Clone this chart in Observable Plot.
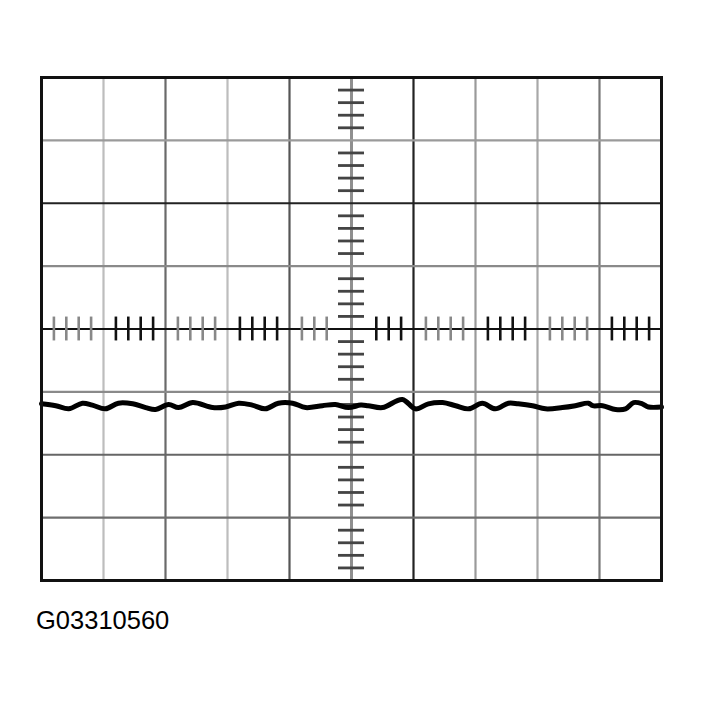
<!DOCTYPE html>
<html>
<head>
<meta charset="utf-8">
<script src="https://cdn.jsdelivr.net/npm/d3@7"></script>
<script src="https://cdn.jsdelivr.net/npm/@observablehq/plot@0.6"></script>
<style>
  html, body { margin: 0; padding: 0; background: #fff; }
  #chart svg { display: block; }
  #caption { font-family: "Liberation Sans", Arial, sans-serif; font-size: 25.5px; line-height: 24px; padding: 12px 0 0 36px; color: #000; }
</style>
</head>
<body>
<div id="chart"></div>
<div id="caption"></div>
<script>
// Time axis: divisions (0..10); voltage axis: divisions (-4..4)
const gridX = [1, 2, 3, 4, 5, 6, 7, 8, 9];
const gridY = [-3, -2, -1, 0, 1, 2, 3];
const minorX = [0.2,0.4,0.6,0.8, 1.2,1.4,1.6,1.8, 2.2,2.4,2.6,2.8, 3.2,3.4,3.6,3.8, 4.2,4.4,4.6,
                5.4,5.6,5.8, 6.2,6.4,6.6,6.8, 7.2,7.4,7.6,7.8, 8.2,8.4,8.6,8.8, 9.2,9.4,9.6,9.8];
const minorY = [-3.8,-3.6,-3.4,-3.2, -2.8,-2.6,-2.4,-2.2, -1.8,-1.6,-1.4,-1.2, -0.8,-0.6,-0.4,-0.2,
                0.2,0.4,0.6,0.8, 1.2,1.4,1.6,1.8, 2.2,2.4,2.6,2.8, 3.2,3.4,3.6,3.8];
const signalT = [0.00,0.23,0.44,0.66,0.82,1.03,1.24,1.47,1.68,1.84,2.05,2.21,2.44,2.76,2.97,3.18,3.40,3.61,3.82,4.05,
                 4.26,4.53,4.74,4.95,5.15,5.27,5.50,5.82,6.03,6.24,6.47,6.68,6.89,7.11,7.32,7.53,7.69,7.92,8.13,8.40,
                 8.61,8.82,8.89,9.05,9.26,9.42,9.55,9.69,9.79,10.00];
const signalV = [-1.19,-1.22,-1.27,-1.18,-1.21,-1.27,-1.18,-1.19,-1.25,-1.28,-1.20,-1.25,-1.17,-1.25,-1.24,-1.18,-1.21,-1.27,-1.18,-1.18,
                 -1.25,-1.22,-1.20,-1.25,-1.21,-1.22,-1.25,-1.12,-1.27,-1.19,-1.17,-1.22,-1.27,-1.18,-1.27,-1.18,-1.19,-1.22,-1.27,-1.25,
                 -1.22,-1.18,-1.22,-1.22,-1.28,-1.27,-1.17,-1.19,-1.24,-1.24];
const captionText = "G03310560";

const signal = signalT.map((t, i) => ({t, v: signalV[i]}));

// scanned-look grid tones
const xTone = {1: "#bdbdbd", 2: "#6a6a6a", 3: "#bdbdbd", 4: "#555", 5: "#8f8f8f", 6: "#222", 7: "#9a9a9a", 8: "#a8a8a8", 9: "#777"};
const yTone = {"-3": "#6e6e6e", "-2": "#666", "-1": "#8a8a8a", "0": "#111", "1": "#8a8a8a", "2": "#222", "3": "#9a9a9a"};

const chart = Plot.plot({
  width: 703,
  height: 596,
  marginLeft: 41,
  marginRight: 42,
  marginTop: 77,
  marginBottom: 16,
  x: {domain: [0, 10], axis: null},
  y: {domain: [-4, 4], axis: null},
  marks: [
    Plot.ruleX(gridX, {x: d => d, stroke: d => xTone[d], strokeWidth: d => d === 5 ? 3 : 2.2}),
    Plot.ruleY(gridY, {y: d => d, stroke: d => yTone[d], strokeWidth: 2.2}),
    Plot.ruleX(minorX, {x: d => d, y1: -0.19, y2: 0.19, stroke: d => (Math.floor(d) % 2 ? "#111" : "#888"), strokeWidth: 2.6}),
    Plot.ruleY(minorY, {y: d => d, x1: 4.79, x2: 5.21, stroke: "#444", strokeWidth: 2.8}),
    Plot.line(signal, {x: "t", y: "v", stroke: "#000", strokeWidth: 5, curve: "catmull-rom"}),
    Plot.frame({stroke: "#111", strokeWidth: 3})
  ]
});
document.getElementById("chart").appendChild(chart);
document.getElementById("caption").textContent = captionText;
</script>
</body>
</html>
